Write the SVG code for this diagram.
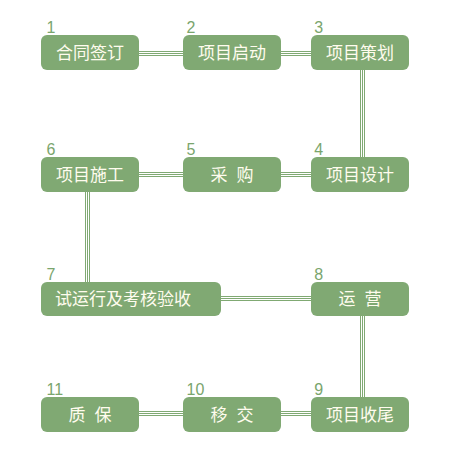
<svg xmlns="http://www.w3.org/2000/svg" width="474" height="451" viewBox="0 0 474 451">
<style>
.box{fill:#80a973;}
.t{font-family:"Noto Sans CJK SC","Microsoft YaHei",sans-serif;font-size:17px;fill:#fffcee;text-anchor:middle;}
.ts{word-spacing:5px;}
.n{font-family:"Liberation Sans",Arial,sans-serif;font-size:16px;fill:#7aa56d;}
.c line{stroke:#80a973;stroke-width:1;}
</style>
<rect width="474" height="451" fill="#ffffff"/>
<g id="connectors" class="c">
<line x1="139" y1="51.5" x2="183" y2="51.5"/><line x1="139" y1="53.5" x2="183" y2="53.5"/><line x1="139" y1="55.5" x2="183" y2="55.5"/>
<line x1="281" y1="51.5" x2="311" y2="51.5"/><line x1="281" y1="53.5" x2="311" y2="53.5"/><line x1="281" y1="55.5" x2="311" y2="55.5"/>
<line x1="360.5" y1="69" x2="360.5" y2="157"/><line x1="362.5" y1="69" x2="362.5" y2="157"/><line x1="364.5" y1="69" x2="364.5" y2="157"/>
<line x1="139" y1="172.5" x2="183" y2="172.5"/><line x1="139" y1="174.5" x2="183" y2="174.5"/><line x1="139" y1="176.5" x2="183" y2="176.5"/>
<line x1="281" y1="172.5" x2="311" y2="172.5"/><line x1="281" y1="174.5" x2="311" y2="174.5"/><line x1="281" y1="176.5" x2="311" y2="176.5"/>
<line x1="85.5" y1="192" x2="85.5" y2="282"/><line x1="87.5" y1="192" x2="87.5" y2="282"/><line x1="89.5" y1="192" x2="89.5" y2="282"/>
<line x1="221" y1="296.5" x2="311" y2="296.5"/><line x1="221" y1="298.5" x2="311" y2="298.5"/><line x1="221" y1="300.5" x2="311" y2="300.5"/>
<line x1="360.5" y1="316" x2="360.5" y2="397"/><line x1="362.5" y1="316" x2="362.5" y2="397"/><line x1="364.5" y1="316" x2="364.5" y2="397"/>
<line x1="139" y1="411.5" x2="183" y2="411.5"/><line x1="139" y1="413.5" x2="183" y2="413.5"/><line x1="139" y1="415.5" x2="183" y2="415.5"/>
<line x1="281" y1="411.5" x2="311" y2="411.5"/><line x1="281" y1="413.5" x2="311" y2="413.5"/><line x1="281" y1="415.5" x2="311" y2="415.5"/>
</g>
<g id="n1"><rect class="box" x="41" y="35" width="98" height="35" rx="6"/><text class="n" x="46.5" y="33">1</text><text class="t" x="90" y="58.5">合同签订</text></g>
<g id="n2"><rect class="box" x="183" y="35" width="98" height="35" rx="6"/><text class="n" x="186.5" y="33">2</text><text class="t" x="232" y="58.5">项目启动</text></g>
<g id="n3"><rect class="box" x="311" y="35" width="98" height="35" rx="6"/><text class="n" x="314.3" y="33">3</text><text class="t" x="360" y="58.5">项目策划</text></g>
<g id="n4"><rect class="box" x="311" y="157" width="98" height="35" rx="6"/><text class="n" x="314.3" y="155">4</text><text class="t" x="360" y="180.5">项目设计</text></g>
<g id="n5"><rect class="box" x="183" y="157" width="98" height="35" rx="6"/><text class="n" x="186.5" y="155">5</text><text class="t ts" x="232" y="180.5">采 购</text></g>
<g id="n6"><rect class="box" x="41" y="157" width="98" height="35" rx="6"/><text class="n" x="46.5" y="155">6</text><text class="t" x="90" y="180.5">项目施工</text></g>
<g id="n7"><rect class="box" x="41" y="282" width="180" height="34" rx="6"/><text class="n" x="46.5" y="280">7</text><text class="t" x="55" y="305" style="text-anchor:start">试运行及考核验收</text></g>
<g id="n8"><rect class="box" x="311" y="282" width="98" height="34" rx="6"/><text class="n" x="314.3" y="280">8</text><text class="t ts" x="360" y="305">运 营</text></g>
<g id="n9"><rect class="box" x="311" y="397" width="98" height="35" rx="6"/><text class="n" x="314.3" y="395">9</text><text class="t" x="360" y="420.5">项目收尾</text></g>
<g id="n10"><rect class="box" x="183" y="397" width="98" height="35" rx="6"/><text class="n" x="186.5" y="395">10</text><text class="t ts" x="232" y="420.5">移 交</text></g>
<g id="n11"><rect class="box" x="41" y="397" width="98" height="35" rx="6"/><text class="n" x="46.5" y="395">11</text><text class="t ts" x="90" y="420.5">质 保</text></g>
</svg>
